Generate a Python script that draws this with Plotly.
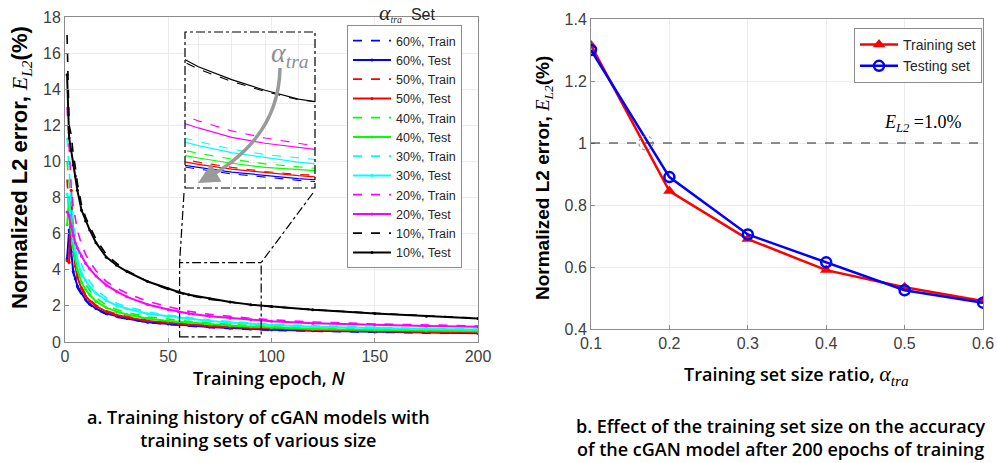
import plotly.graph_objects as go

W, H = 997, 463

# ---------------- data: left panel (training history) ----------------
epochs = [1, 2, 3, 4, 5, 6, 8, 10, 12, 15, 20, 25, 30, 40, 50, 55, 60, 70, 80, 90, 100, 120, 150, 175, 200]

train_60 = [4.5, 5.8, 4.8, 3.8, 3.4, 3.0, 2.62, 2.28, 2.05, 1.8, 1.54, 1.38, 1.27, 1.08, 0.97, 0.92, 0.88, 0.8, 0.74, 0.69, 0.65, 0.6, 0.54, 0.5, 0.485]
test_60 = [4.6, 6.2, 5.0, 3.9, 3.5, 3.1, 2.7, 2.35, 2.1, 1.85, 1.58, 1.42, 1.3, 1.1, 1.0, 0.95, 0.91, 0.83, 0.77, 0.72, 0.68, 0.62, 0.56, 0.52, 0.49]
train_50 = [9.0, 7.0, 6.0, 5.2, 4.3, 3.7, 3.05, 2.65, 2.36, 2.04, 1.73, 1.54, 1.41, 1.21, 1.1, 1.05, 1.0, 0.91, 0.84, 0.79, 0.75, 0.68, 0.61, 0.57, 0.535]
test_50 = [4.5, 4.4, 8.4, 5.5, 4.2, 3.6, 2.95, 2.55, 2.28, 1.98, 1.68, 1.5, 1.37, 1.17, 1.06, 1.01, 0.96, 0.88, 0.82, 0.77, 0.73, 0.66, 0.6, 0.55, 0.525]
train_40 = [10.0, 8.8, 7.3, 6.0, 5.2, 4.6, 3.7, 3.2, 2.85, 2.45, 2.05, 1.8, 1.63, 1.39, 1.26, 1.21, 1.15, 1.05, 0.97, 0.9, 0.85, 0.77, 0.7, 0.65, 0.615]
test_40 = [6.5, 8.0, 6.2, 5.2, 4.6, 4.0, 3.3, 2.9, 2.6, 2.25, 1.9, 1.68, 1.52, 1.3, 1.17, 1.12, 1.07, 0.98, 0.91, 0.85, 0.8, 0.72, 0.66, 0.62, 0.59]
train_30 = [11.3, 9.5, 7.8, 6.6, 5.8, 5.2, 4.3, 3.75, 3.35, 2.9, 2.45, 2.15, 1.95, 1.66, 1.49, 1.42, 1.35, 1.22, 1.13, 1.05, 0.99, 0.9, 0.8, 0.74, 0.705]
test_30 = [8.2, 7.8, 6.5, 5.6, 5.0, 4.5, 3.8, 3.4, 3.05, 2.7, 2.3, 2.02, 1.84, 1.57, 1.42, 1.35, 1.28, 1.16, 1.08, 1.0, 0.94, 0.85, 0.77, 0.72, 0.69]
train_20 = [13.0, 10.5, 8.6, 7.5, 6.8, 6.2, 5.4, 4.85, 4.45, 3.95, 3.35, 2.98, 2.7, 2.25, 1.95, 1.81, 1.7, 1.53, 1.41, 1.31, 1.23, 1.11, 1.0, 0.93, 0.89]
test_20 = [7.2, 7.0, 6.4, 5.9, 5.5, 5.2, 4.75, 4.35, 4.05, 3.65, 3.15, 2.8, 2.5, 2.08, 1.8, 1.67, 1.58, 1.42, 1.32, 1.23, 1.15, 1.04, 0.94, 0.88, 0.845]
train_10 = [17.0, 12.0, 11.5, 10.4, 9.7, 8.8, 7.6, 6.9, 6.4, 5.7, 4.85, 4.35, 3.95, 3.35, 2.9, 2.72, 2.58, 2.37, 2.2, 2.06, 1.96, 1.79, 1.59, 1.44, 1.315]
test_10 = [14.8, 11.3, 10.6, 9.8, 9.2, 8.4, 7.3, 6.7, 6.2, 5.5, 4.7, 4.25, 3.9, 3.35, 2.95, 2.77, 2.62, 2.4, 2.22, 2.07, 1.96, 1.78, 1.58, 1.42, 1.30]

series_labels = ["60%", "50%", "40%", "30%", "20%", "10%"]
series_colors = ["#0000FF", "#FF0000", "#00FF00", "#00FFFF", "#FF00FF", "#000000"]
series_train = [train_60, train_50, train_40, train_30, train_20, train_10]
series_test = [test_60, test_50, test_40, test_30, test_20, test_10]

# ---------------- data: right panel ----------------
ratio = [0.1, 0.2, 0.3, 0.4, 0.5, 0.6]
err_training = [1.315, 0.845, 0.69, 0.59, 0.535, 0.49]
err_testing = [1.30, 0.89, 0.705, 0.615, 0.525, 0.485]

left_xticks = [0, 50, 100, 150, 200]
left_yticks = [0, 2, 4, 6, 8, 10, 12, 14, 16, 18]
right_xticks = [0.1, 0.2, 0.3, 0.4, 0.5, 0.6]
right_yticks = [0.4, 0.6, 0.8, 1.0, 1.2, 1.4]
right_yticktext = ["0.4", "0.6", "0.8", "1", "1.2", "1.4"]

# ---------------- layout geometry ----------------
def px(x, y):
    return x / W, 1 - y / H

L_dom_x = [65 / W, 478 / W]
L_dom_y = [1 - 342 / H, 1 - 17 / H]
R_dom_x = [591 / W, 983 / W]
R_dom_y = [1 - 329 / H, 1 - 19 / H]
I_dom_x = [185 / W, 315 / W]
I_dom_y = [1 - 188 / H, 1 - 32 / H]
L_range_x = [0, 200]
L_range_y = [0, 18]
I_range_x = [56, 95]
I_range_y = [0.56, 3.21]
zoom_box_x = [55.5, 95]
zoom_box_y = [0.28, 4.4]

TICKFONT = dict(family="Liberation Sans, Arial", size=16, color="#404040")
AXCOL = "#8c8c8c"
GRIDCOL = "#ececec"
SERIF = "Liberation Serif, Times New Roman"
CAPFONT = "Open Sans, Lato, Noto Sans"

fig = go.Figure()

for lab, col, tr, te in zip(series_labels, series_colors, series_train, series_test):
    fig.add_trace(go.Scatter(x=epochs, y=tr, mode="lines", name=f"{lab}, Train",
                             line=dict(color=col, width=1.6, dash="dash"),
                             xaxis="x", yaxis="y", legend="legend"))
    fig.add_trace(go.Scatter(x=epochs, y=te, mode="lines+markers", name=f"{lab}, Test",
                             line=dict(color=col, width=2), marker=dict(size=3, color=col),
                             xaxis="x", yaxis="y", legend="legend"))

# inset copies
for lab, col, tr, te in zip(series_labels, series_colors, series_train, series_test):
    fig.add_trace(go.Scatter(x=epochs, y=tr, mode="lines", showlegend=False, hoverinfo="skip",
                             line=dict(color=col, width=1.1, dash="dash"),
                             xaxis="x3", yaxis="y3"))
    fig.add_trace(go.Scatter(x=epochs, y=te, mode="lines", showlegend=False, hoverinfo="skip",
                             line=dict(color=col, width=1.2),
                             xaxis="x3", yaxis="y3"))

# right panel
fig.add_trace(go.Scatter(x=ratio, y=err_training, mode="lines+markers", name="Training set",
                         line=dict(color="#FF0000", width=2.5),
                         marker=dict(symbol="triangle-up", size=11, color="#FF0000"),
                         xaxis="x2", yaxis="y2", legend="legend2"))
fig.add_trace(go.Scatter(x=ratio, y=err_testing, mode="lines+markers", name="Testing set",
                         line=dict(color="#0000FF", width=2.5),
                         marker=dict(symbol="circle-open", size=10, color="#0000FF", line=dict(width=2.5)),
                         xaxis="x2", yaxis="y2", legend="legend2"))

axis_common = dict(showline=True, linecolor=AXCOL, linewidth=1, mirror=True, ticks="inside",
                   ticklen=4, tickcolor=AXCOL, showgrid=True, gridcolor=GRIDCOL, gridwidth=1,
                   zeroline=False, tickfont=TICKFONT, automargin=False)

shapes = []
shapes.append(dict(type="rect", xref="x", yref="y", x0=zoom_box_x[0], x1=zoom_box_x[1],
                   y0=zoom_box_y[0], y1=zoom_box_y[1], line=dict(color="black", width=1.2, dash="dashdot")))
shapes.append(dict(type="rect", xref="x3", yref="y3", x0=I_range_x[0], x1=I_range_x[1],
                   y0=I_range_y[0], y1=I_range_y[1], fillcolor="white", line=dict(width=0), layer="below"))
shapes.append(dict(type="rect", xref="paper", yref="paper", x0=I_dom_x[0], x1=I_dom_x[1],
                   y0=I_dom_y[0], y1=I_dom_y[1], line=dict(color="black", width=1.2, dash="dashdot")))

def lpaper(xv, yv):
    fx = L_dom_x[0] + (xv - L_range_x[0]) / (L_range_x[1] - L_range_x[0]) * (L_dom_x[1] - L_dom_x[0])
    fy = L_dom_y[0] + (yv - L_range_y[0]) / (L_range_y[1] - L_range_y[0]) * (L_dom_y[1] - L_dom_y[0])
    return fx, fy

gap = 5 / H
bl = lpaper(zoom_box_x[0], zoom_box_y[1])
br = lpaper(zoom_box_x[1], zoom_box_y[1])
shapes.append(dict(type="line", xref="paper", yref="paper", x0=I_dom_x[0] - 1 / W, y0=I_dom_y[0] - gap,
                   x1=bl[0], y1=bl[1], line=dict(color="black", width=1.2, dash="dashdot")))
shapes.append(dict(type="line", xref="paper", yref="paper", x0=I_dom_x[1] - 2 / W, y0=I_dom_y[0] - gap,
                   x1=br[0], y1=br[1], line=dict(color="black", width=1.2, dash="dashdot")))

s = px(280, 68); c = px(279, 140); e = px(203, 180)
shapes.append(dict(type="path", xref="paper", yref="paper",
                   path=f"M {s[0]},{s[1]} Q {c[0]},{c[1]} {e[0]},{e[1]}",
                   line=dict(color="#9a9a9a", width=3.5)))

shapes.append(dict(type="line", xref="x2", yref="y2", x0=0.1, x1=0.6, y0=1.0, y1=1.0,
                   line=dict(color="#222222", width=1.2, dash="dash")))
shapes.append(dict(type="circle", xref="x2", yref="y2", xsizemode="pixel", ysizemode="pixel",
                   xanchor=0.17, yanchor=1.0, x0=-7, x1=7, y0=-7, y1=7,
                   line=dict(color="#777777", width=1, dash="dot")))

annotations = []
annotations.append(dict(xref="paper", yref="paper", x=198 / W, y=1 - 183 / H, ax=14, ay=-8,
                        showarrow=True, arrowhead=2, arrowsize=1.2, arrowwidth=3.5,
                        arrowcolor="#9a9a9a", text=""))
annotations.append(dict(xref="paper", yref="paper", x=290 / W, y=1 - 54 / H, showarrow=False,
                        text="<i>α</i><sub><i>tra</i></sub>",
                        font=dict(family=SERIF, size=28, color="#8f8f8f"), xanchor="center", yanchor="middle"))
annotations.append(dict(xref="paper", yref="paper", x=407 / W, y=1 - 12 / H, showarrow=False,
                        text='<span style="font-family:Liberation Serif;font-style:italic;font-size:22px">α</span>'
                             '<span style="font-family:Liberation Serif;font-style:italic;font-size:14px"><sub>tra</sub></span>'
                             '  Set',
                        font=dict(family="Liberation Sans, Arial", size=16, color="#262626"),
                        xanchor="center", yanchor="middle"))
yt = ('<b>Normalized L2 error, </b><span style="font-family:Liberation Serif;font-style:italic;font-weight:normal">'
      'E<sub>L2</sub></span><b>(%)</b>')
annotations.append(dict(xref="paper", yref="paper", x=21 / W, y=1 - 168 / H, showarrow=False, text=yt,
                        textangle=-90, font=dict(family="Liberation Sans, Arial", size=22, color="black"),
                        xanchor="center", yanchor="middle"))
annotations.append(dict(xref="paper", yref="paper", x=544 / W, y=1 - 178 / H, showarrow=False, text=yt,
                        textangle=-90, font=dict(family="Liberation Sans, Arial", size=19, color="black"),
                        xanchor="center", yanchor="middle"))
annotations.append(dict(xref="paper", yref="paper", x=269 / W, y=1 - 378 / H, showarrow=False,
                        text="Training epoch, <i>N</i>",
                        font=dict(family=CAPFONT, size=18, color="black", weight=600),
                        xanchor="center", yanchor="middle"))
annotations.append(dict(xref="paper", yref="paper", x=796 / W, y=1 - 375 / H, showarrow=False,
                        text='Training set size ratio, <span style="font-family:Liberation Serif;font-style:italic;font-weight:normal;font-size:22px">'
                             'α<sub>tra</sub></span>',
                        font=dict(family=CAPFONT, size=18, color="black", weight=600),
                        xanchor="center", yanchor="middle"))
annotations.append(dict(xref="paper", yref="paper", x=922 / W, y=1 - 123 / H, showarrow=False,
                        text="<i>E</i><sub><i>L2</i></sub> =1.0%",
                        font=dict(family=SERIF, size=18, color="black"), xanchor="center", yanchor="middle"))
annotations.append(dict(xref="paper", yref="paper", x=258 / W, y=1 - 428 / H, showarrow=False,
                        text="a. Training history of cGAN models with<br>training sets of various size",
                        font=dict(family=CAPFONT, size=18, color="black", weight=600),
                        xanchor="center", yanchor="middle"))
annotations.append(dict(xref="paper", yref="paper", x=781 / W, y=1 - 437 / H, showarrow=False,
                        text="b. Effect of the training set size on the accuracy<br>of the cGAN model after 200 epochs of training",
                        font=dict(family=CAPFONT, size=18, color="black", weight=600),
                        xanchor="center", yanchor="middle"))

fig.update_layout(
    template="none",
    width=W, height=H, margin=dict(l=0, r=0, t=0, b=0, autoexpand=False),
    paper_bgcolor="white", plot_bgcolor="white",
    xaxis=dict(domain=L_dom_x, range=L_range_x, tickvals=left_xticks, anchor="y", **axis_common),
    yaxis=dict(domain=L_dom_y, range=L_range_y, tickvals=left_yticks, anchor="x", **axis_common),
    xaxis2=dict(domain=R_dom_x, range=[0.1, 0.6], tickvals=right_xticks, ticktext=[str(v) for v in right_xticks],
                anchor="y2", **axis_common),
    yaxis2=dict(domain=R_dom_y, range=[0.4, 1.4], tickvals=right_yticks, ticktext=right_yticktext,
                anchor="x2", **axis_common),
    xaxis3=dict(domain=I_dom_x, range=I_range_x, anchor="y3", showticklabels=False, ticks="",
                showgrid=True, gridcolor=GRIDCOL, dtick=10, zeroline=False, showline=False, automargin=False),
    yaxis3=dict(domain=I_dom_y, range=I_range_y, anchor="x3", showticklabels=False, ticks="",
                showgrid=True, gridcolor=GRIDCOL, dtick=1, zeroline=False, showline=False, automargin=False),
    legend=dict(x=347 / W, y=1 - 25 / H, xanchor="left", yanchor="top", bgcolor="white",
                bordercolor="#8c8c8c", borderwidth=1, itemwidth=38, tracegroupgap=0,
                font=dict(family="Liberation Sans, Arial", size=12.5, color="#262626")),
    legend2=dict(x=854 / W, y=1 - 28 / H, xanchor="left", yanchor="top", bgcolor="white",
                 bordercolor="#8c8c8c", borderwidth=1, itemwidth=38,
                 font=dict(family="Liberation Sans, Arial", size=14, color="#262626")),
    shapes=shapes, annotations=annotations, showlegend=True,
)

fig.write_html("out.html")
